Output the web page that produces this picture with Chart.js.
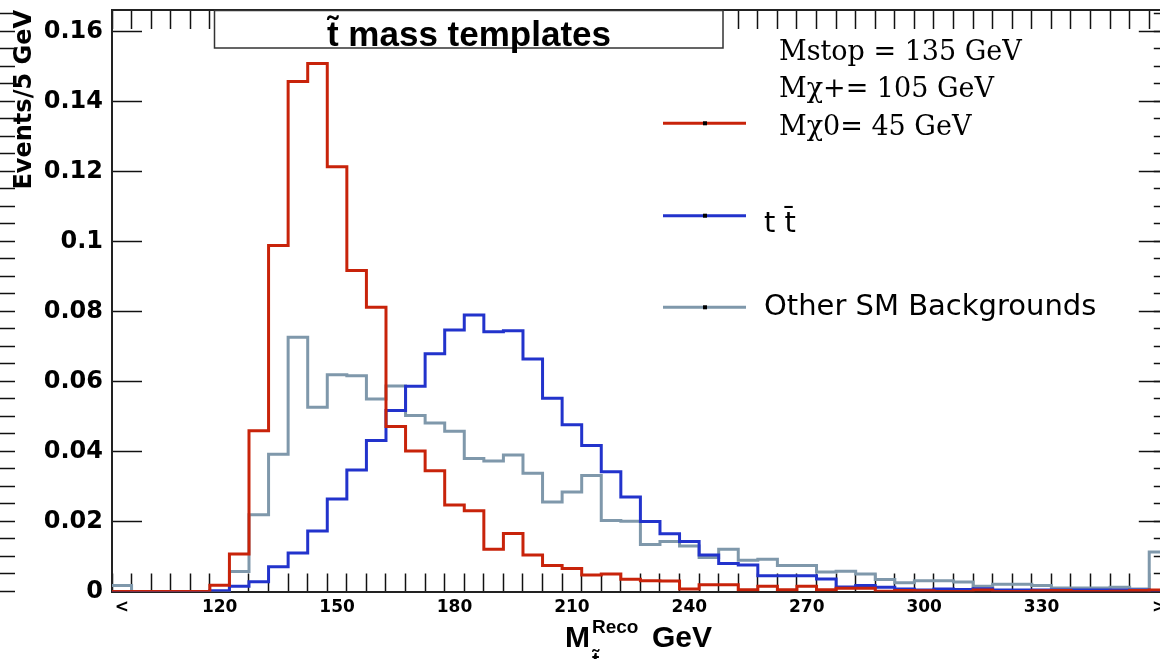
<!DOCTYPE html>
<html>
<head>
<meta charset="utf-8">
<script src="https://cdn.jsdelivr.net/npm/chart.js@4/dist/chart.umd.min.js"></script>
<style>
html, body { margin: 0; padding: 0; overflow: hidden; background: #fff; width: 1160px; height: 659px; }
#wrap { position: relative; width: 1180px; height: 659px; }
canvas { display: block; }
</style>
</head>
<body>
<div id="wrap"><canvas id="c" width="1180" height="659"></canvas></div>
<script>
// ---- data (one entry per 5 GeV bin; bin 0 = underflow "<", last bin = overflow ">") ----
const binLabelIndex = [0, 5, 11, 17, 23, 29, 35, 41, 47, 53];
const binLabelText  = ["<", "120", "150", "180", "210", "240", "270", "300", "330", ">"];

const signal = [0, 0, 0, 0, 0, 0.0018, 0.0107, 0.0459, 0.0988, 0.1457,
  0.1508, 0.1213, 0.0917, 0.0812, 0.0471, 0.0401, 0.0345, 0.0247, 0.0231, 0.0121,
  0.0166, 0.0104, 0.0074, 0.0066, 0.0047, 0.005, 0.0035, 0.0031, 0.003, 0.0007,
  0.0019, 0.0019, 0.0005, 0.0015, 0.0005, 0.0015, 0.0005, 0.0009, 0.0009, 0.0001,
  0.0003, 0.0002, 0, 0, 0.0004, 0, 0, 0.0002, 0.0003, 0,
  0, 0.0001, 0.0003, 0.0004];

const ttbar = [0, 0, 0, 0, 0, 0.0002, 0.0015, 0.0028, 0.0071, 0.011,
  0.0173, 0.0264, 0.0347, 0.0431, 0.0517, 0.0586, 0.0679, 0.0747, 0.079, 0.0742,
  0.0745, 0.0664, 0.0552, 0.0476, 0.0417, 0.0342, 0.027, 0.02, 0.0165, 0.0143,
  0.0104, 0.008, 0.0076, 0.0045, 0.0045, 0.0045, 0.0036, 0.0013, 0.0017, 0.0012,
  0.0007, 0.0004, 0.0007, 0.0006, 0.0008, 0.0004, 0.0004, 0.0004, 0.0004, 0.0004,
  0.0004, 0.0004, 0.0004, 0];

const otherSM = [0.0017, 0, 0, 0, 0, 0, 0.0057, 0.0219, 0.0392, 0.0726,
  0.0526, 0.0619, 0.0616, 0.055, 0.0587, 0.0503, 0.0481, 0.0458, 0.038, 0.0373,
  0.039, 0.0338, 0.0256, 0.0284, 0.0331, 0.0203, 0.0201, 0.0134, 0.0143, 0.013,
  0.0097, 0.0121, 0.0089, 0.0092, 0.0074, 0.0074, 0.0056, 0.0058, 0.005, 0.0034,
  0.0025, 0.0031, 0.0031, 0.0027, 0.0015, 0.0021, 0.0021, 0.0017, 0.001, 0.001,
  0.001, 0.0012, 0.0007, 0.0113];

const yMajorTicks = [0, 0.02, 0.04, 0.06, 0.08, 0.1, 0.12, 0.14, 0.16];
const yMinorStep = 0.005;
const yMax = 0.1661;

const seriesNames = ["Mstop = 135 GeV", "t t\u0304", "Other SM Backgrounds"];
const signalInfo = ["Mstop = 135 GeV", "M\u03C7+= 105 GeV", "M\u03C70= 45 GeV"];
const plotTitle = "t\u0303 mass templates";

// ---- helpers ----
const nBins = signal.length;
function toSteps(arr) {
  const pts = arr.map((v, i) => ({ x: i, y: v }));
  pts.push({ x: arr.length, y: arr[arr.length - 1] });
  return pts;
}
const xEdgeTicks = [];
for (let i = 0; i <= nBins; i++) xEdgeTicks.push(i);
const xAllTicks = [];
for (let i = 0; i <= nBins * 2; i++) xAllTicks.push(i / 2);
const yMinorTicks = [];
for (let i = 0; i * yMinorStep <= yMax + 1e-9; i++) yMinorTicks.push(+(i * yMinorStep).toFixed(4));

const FRAME = '#222';
const TICK = '#111';

function fixSize(w, h) {
  return s => {
    if (w !== null) s.width = w;
    if (h !== null) s.height = h;
    s.paddingLeft = 0; s.paddingRight = 0; s.paddingTop = 0; s.paddingBottom = 0;
  };
}
const noGridArea = (len, extra) => Object.assign({ drawOnChartArea: false, drawTicks: true, tickLength: len, tickColor: TICK, tickWidth: 1.5 }, extra || {});

const overlay = {
  id: 'overlay',
  afterDraw(chart) {
    const ctx = chart.ctx;
    ctx.save();
    // title box
    ctx.fillStyle = '#fff';
    ctx.fillRect(214, 10, 509, 38);
    ctx.strokeStyle = '#333';
    ctx.lineWidth = 1.5;
    ctx.strokeRect(214.5, 10.5, 508.5, 37.5);
    ctx.fillStyle = '#000';
    ctx.textAlign = 'center';
    ctx.textBaseline = 'alphabetic';
    ctx.font = 'bold 35px "Liberation Sans"';
    ctx.fillText(plotTitle, 469, 46);

    // legend
    const ds = chart.data.datasets;
    const ly = [123.3, 215.7, 307.3];
    ds.forEach((d, i) => {
      ctx.strokeStyle = d.borderColor;
      ctx.lineWidth = 3;
      ctx.beginPath();
      ctx.moveTo(663, ly[i]);
      ctx.lineTo(746, ly[i]);
      ctx.stroke();
      ctx.fillStyle = '#000';
      ctx.fillRect(703, ly[i] - 2, 4, 4);
    });
    ctx.textAlign = 'left';
    ctx.fillStyle = '#000';
    ctx.font = '27px "DejaVu Serif"';
    const sy = [60, 97, 135];
    signalInfo.forEach((t, i) => ctx.fillText(t, 779, sy[i]));
    ctx.font = '29px "DejaVu Sans"';
    ctx.fillText(seriesNames[1], 764, 232);
    ctx.fillText(seriesNames[2], 764, 315);

    // x-axis title  M^{Reco}_{t~} GeV
    ctx.font = 'bold 30px "Liberation Sans"';
    ctx.fillText('M', 565, 646.5);
    ctx.font = 'bold 19px "Liberation Sans"';
    ctx.fillText('Reco', 592, 633);
    ctx.font = 'bold 22px "Liberation Sans"';
    ctx.fillText('t\u0303', 592, 668);
    ctx.font = 'bold 30px "Liberation Sans"';
    ctx.fillText('GeV', 652, 646.5);
    ctx.restore();
  }
};

new Chart(document.getElementById('c'), {
  type: 'line',
  data: {
    datasets: [
      { label: seriesNames[0], data: toSteps(signal), borderColor: '#c8230a', borderWidth: 3, stepped: 'before', pointRadius: 0, fill: false, borderJoinStyle: 'miter' },
      { label: seriesNames[1], data: toSteps(ttbar), borderColor: '#2233cc', borderWidth: 3, stepped: 'before', pointRadius: 0, fill: false, borderJoinStyle: 'miter' },
      { label: seriesNames[2], data: toSteps(otherSM), borderColor: '#7f98ab', borderWidth: 3, stepped: 'before', pointRadius: 0, fill: false, borderJoinStyle: 'miter' }
    ]
  },
  options: {
    responsive: false,
    animation: false,
    devicePixelRatio: 1,
    events: [],
    layout: { autoPadding: false, padding: { left: 0, top: 10, right: 11.2, bottom: 0 } },
    plugins: { legend: { display: false }, title: { display: false }, tooltip: { enabled: false } },
    scales: {
      x: {
        type: 'linear', position: 'bottom', min: 0, max: nBins,
        afterBuildTicks: s => { s.ticks = xAllTicks.map(v => ({ value: v })); },
        afterFit: fixSize(null, 67.5),
        border: { display: true, color: FRAME, width: 2 },
        grid: noGridArea(-18, { tickColor: c => (c.tick && Number.isInteger(c.tick.value)) ? TICK : 'rgba(0,0,0,0)' }),
        ticks: {
          autoSkip: false, maxRotation: 0, minRotation: 0, padding: 24, color: '#000',
          font: { family: 'DejaVu Sans', weight: 'bold', size: 17 },
          callback: v => { const k = binLabelIndex.indexOf(v - 0.5); return k >= 0 ? binLabelText[k] : ''; }
        }
      },
      xTop: {
        type: 'linear', position: 'top', min: 0, max: nBins,
        afterBuildTicks: s => { s.ticks = xEdgeTicks.map(v => ({ value: v })); },
        afterFit: fixSize(null, 0),
        border: { display: true, color: FRAME, width: 2 },
        grid: noGridArea(-19),
        ticks: { display: false }
      },
      y: {
        type: 'linear', position: 'left', min: 0, max: yMax,
        afterBuildTicks: s => { s.ticks = yMajorTicks.map(v => ({ value: v })); },
        afterFit: fixSize(112, null),
        border: { display: true, color: FRAME, width: 2 },
        grid: noGridArea(-30),
        ticks: {
          padding: 39, color: '#000',
          font: { family: 'DejaVu Sans', weight: 'bold', size: 24 },
          callback: v => String(v)
        },
        title: {
          display: true, text: 'Events/5 GeV', align: 'end', color: '#000',
          font: { family: 'DejaVu Sans', weight: 'bold', size: 24 },
          padding: { top: 10, bottom: 0 }
        }
      },
      yMinor: {
        type: 'linear', position: 'left', min: 0, max: yMax,
        afterBuildTicks: s => { s.ticks = yMinorTicks.map(v => ({ value: v })); },
        afterFit: fixSize(0, null),
        border: { display: false },
        grid: noGridArea(-15),
        ticks: { display: false }
      },
      yR: {
        type: 'linear', position: 'right', min: 0, max: yMax,
        afterBuildTicks: s => { s.ticks = yMajorTicks.map(v => ({ value: v })); },
        afterFit: fixSize(0, null),
        border: { display: true, color: FRAME, width: 2 },
        grid: noGridArea(-30),
        ticks: { display: false }
      },
      yRMinor: {
        type: 'linear', position: 'right', min: 0, max: yMax,
        afterBuildTicks: s => { s.ticks = yMinorTicks.map(v => ({ value: v })); },
        afterFit: fixSize(0, null),
        border: { display: false },
        grid: noGridArea(-15),
        ticks: { display: false }
      }
    }
  },
  plugins: [overlay]
});
</script>
</body>
</html>
